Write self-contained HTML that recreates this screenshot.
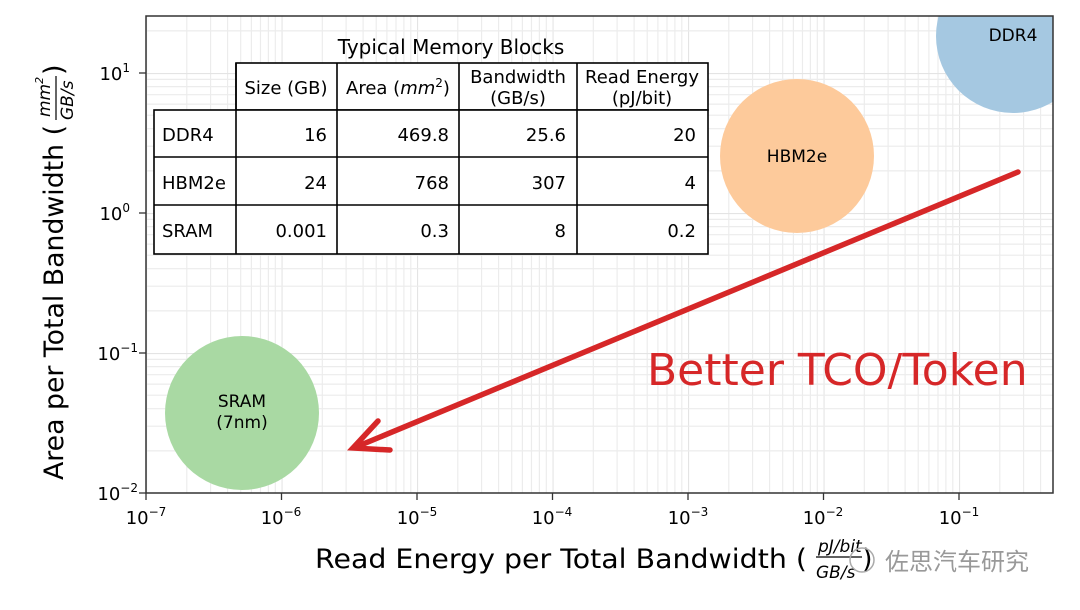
<!DOCTYPE html>
<html><head><style>body{margin:0;background:#fff}svg{display:block;font-family:"DejaVu Sans","Liberation Sans",sans-serif}</style></head>
<body>
<svg width="1080" height="610" viewBox="0 0 1080 610" xmlns="http://www.w3.org/2000/svg">
<defs>
<pattern id="gx" x="146" y="0" width="135.5" height="610" patternUnits="userSpaceOnUse">
<g stroke="#ececec" stroke-width="1.2">
<line x1="0.5" y1="0" x2="0.5" y2="610" stroke="#e4e4e4"/>
<line x1="40.8" y1="0" x2="40.8" y2="610"/><line x1="64.6" y1="0" x2="64.6" y2="610"/>
<line x1="81.6" y1="0" x2="81.6" y2="610"/><line x1="94.7" y1="0" x2="94.7" y2="610"/>
<line x1="105.4" y1="0" x2="105.4" y2="610"/><line x1="114.5" y1="0" x2="114.5" y2="610"/>
<line x1="122.4" y1="0" x2="122.4" y2="610"/><line x1="129.3" y1="0" x2="129.3" y2="610"/>
</g></pattern>
<pattern id="gy" x="0" y="73" width="1080" height="140" patternUnits="userSpaceOnUse">
<g stroke="#ececec" stroke-width="1.2">
<line x1="0" y1="0.5" x2="1080" y2="0.5" stroke="#e4e4e4"/>
<line x1="0" y1="97.9" x2="1080" y2="97.9"/><line x1="0" y1="73.2" x2="1080" y2="73.2"/>
<line x1="0" y1="55.7" x2="1080" y2="55.7"/><line x1="0" y1="42.2" x2="1080" y2="42.2"/>
<line x1="0" y1="31.1" x2="1080" y2="31.1"/><line x1="0" y1="21.7" x2="1080" y2="21.7"/>
<line x1="0" y1="13.6" x2="1080" y2="13.6"/><line x1="0" y1="6.4" x2="1080" y2="6.4"/>
</g></pattern>
<clipPath id="ax"><rect x="146" y="16" width="907" height="477"/></clipPath>
</defs>
<rect x="146" y="16" width="907" height="477" fill="url(#gx)"/>
<rect x="146" y="16" width="907" height="477" fill="url(#gy)"/>
<g clip-path="url(#ax)">
<circle cx="1013" cy="36" r="77" fill="#a5c8e1"/>
<circle cx="797" cy="156" r="77" fill="#fdca9b"/>
<circle cx="242" cy="413" r="77" fill="#a9d9a3"/>
</g>
<rect x="146" y="16" width="907" height="477" fill="none" stroke="#333" stroke-width="1.5"/>
<text x="1013" y="41" font-size="17" text-anchor="middle">DDR4</text>
<text x="797" y="162" font-size="17" text-anchor="middle">HBM2e</text>
<text x="242" y="407" font-size="17" text-anchor="middle">SRAM</text>
<text x="242" y="428" font-size="17" text-anchor="middle">(7nm)</text>
<!-- table -->
<text x="451" y="54" font-size="20" text-anchor="middle">Typical Memory Blocks</text>
<g fill="#fff" stroke="#000" stroke-width="1.6">
<rect x="236" y="63" width="472" height="47"/>
<rect x="154" y="110" width="554" height="144"/>
</g>
<g stroke="#000" stroke-width="1.6">
<line x1="154" y1="157" x2="708" y2="157"/><line x1="154" y1="205" x2="708" y2="205"/>
<line x1="236" y1="63" x2="236" y2="254"/><line x1="337" y1="63" x2="337" y2="254"/>
<line x1="459" y1="63" x2="459" y2="254"/><line x1="577" y1="63" x2="577" y2="254"/>
</g>
<g font-size="18">
<text x="286" y="94" text-anchor="middle">Size (GB)</text>
<text x="398" y="94" text-anchor="middle">Area (<tspan font-style="italic">mm</tspan><tspan font-size="12" dy="-7">2</tspan><tspan dy="7">)</tspan></text>
<text x="518" y="83" text-anchor="middle">Bandwidth</text><text x="518" y="104" text-anchor="middle">(GB/s)</text>
<text x="642" y="83" text-anchor="middle">Read Energy</text><text x="642" y="104" text-anchor="middle">(pJ/bit)</text>
<text x="162" y="141">DDR4</text><text x="162" y="189">HBM2e</text><text x="162" y="237">SRAM</text>
<g text-anchor="end">
<text x="327" y="141">16</text><text x="449" y="141">469.8</text><text x="566" y="141">25.6</text><text x="696" y="141">20</text>
<text x="327" y="189">24</text><text x="449" y="189">768</text><text x="566" y="189">307</text><text x="696" y="189">4</text>
<text x="327" y="237">0.001</text><text x="449" y="237">0.3</text><text x="566" y="237">8</text><text x="696" y="237">0.2</text>
</g></g>
<!-- arrow -->
<g stroke="#d62728" stroke-width="5.5" stroke-linecap="round" fill="none">
<line x1="1018" y1="172" x2="356" y2="447"/>
<polyline points="378,421 353,448 390,450"/>
</g>
<text x="647" y="385" font-size="44" fill="#d62728">Better TCO/Token</text>
<!-- ticks -->
<g stroke="#333" stroke-width="1.3">
<line x1="146" y1="493" x2="146" y2="500"/><line x1="281.5" y1="493" x2="281.5" y2="500"/><line x1="417" y1="493" x2="417" y2="500"/><line x1="552.5" y1="493" x2="552.5" y2="500"/><line x1="688" y1="493" x2="688" y2="500"/><line x1="823.5" y1="493" x2="823.5" y2="500"/><line x1="959" y1="493" x2="959" y2="500"/>
<line x1="139" y1="73" x2="146" y2="73"/><line x1="139" y1="213" x2="146" y2="213"/><line x1="139" y1="353" x2="146" y2="353"/><line x1="139" y1="493" x2="146" y2="493"/>
</g>
<g font-size="18" text-anchor="middle">
<text x="146" y="524">10<tspan font-size="12" dy="-8">−7</tspan></text>
<text x="281" y="524">10<tspan font-size="12" dy="-8">−6</tspan></text>
<text x="417" y="524">10<tspan font-size="12" dy="-8">−5</tspan></text>
<text x="552" y="524">10<tspan font-size="12" dy="-8">−4</tspan></text>
<text x="688" y="524">10<tspan font-size="12" dy="-8">−3</tspan></text>
<text x="823" y="524">10<tspan font-size="12" dy="-8">−2</tspan></text>
<text x="959" y="524">10<tspan font-size="12" dy="-8">−1</tspan></text>
</g>
<g font-size="18" text-anchor="end">
<text x="130" y="80">10<tspan font-size="12" dy="-8">1</tspan></text>
<text x="130" y="220">10<tspan font-size="12" dy="-8">0</tspan></text>
<text x="138" y="360">10<tspan font-size="12" dy="-8">−1</tspan></text>
<text x="138" y="500">10<tspan font-size="12" dy="-8">−2</tspan></text>
</g>
<text x="315" y="568" font-size="27" textLength="492" lengthAdjust="spacingAndGlyphs">Read Energy per Total Bandwidth (</text>
<text x="818" y="552" font-size="17" font-style="italic">pJ/bit</text>
<line x1="816" y1="557" x2="862" y2="557" stroke="#000" stroke-width="1.2"/>
<text x="816" y="578" font-size="17" font-style="italic">GB/s</text>
<text x="862" y="568" font-size="27">)</text>
<circle cx="862" cy="560" r="12" fill="none" stroke="#aaa" stroke-width="1.5"/>
<text x="885" y="570" font-size="24" fill="#999" font-family="'Noto Sans CJK SC',sans-serif">佐思汽车研究</text>
<g transform="translate(63,480) rotate(-90)">
<text x="0" y="0" font-size="27" textLength="355" lengthAdjust="spacingAndGlyphs">Area per Total Bandwidth (</text>
<text x="363" y="-13" font-size="17" font-style="italic">mm<tspan font-size="11" dy="-7">2</tspan></text>
<line x1="360" y1="-7" x2="404" y2="-7" stroke="#000" stroke-width="1.2"/>
<text x="360" y="10" font-size="17" font-style="italic">GB/s</text>
<text x="405" y="0" font-size="27">)</text>
</g>
</svg>
</body></html>
